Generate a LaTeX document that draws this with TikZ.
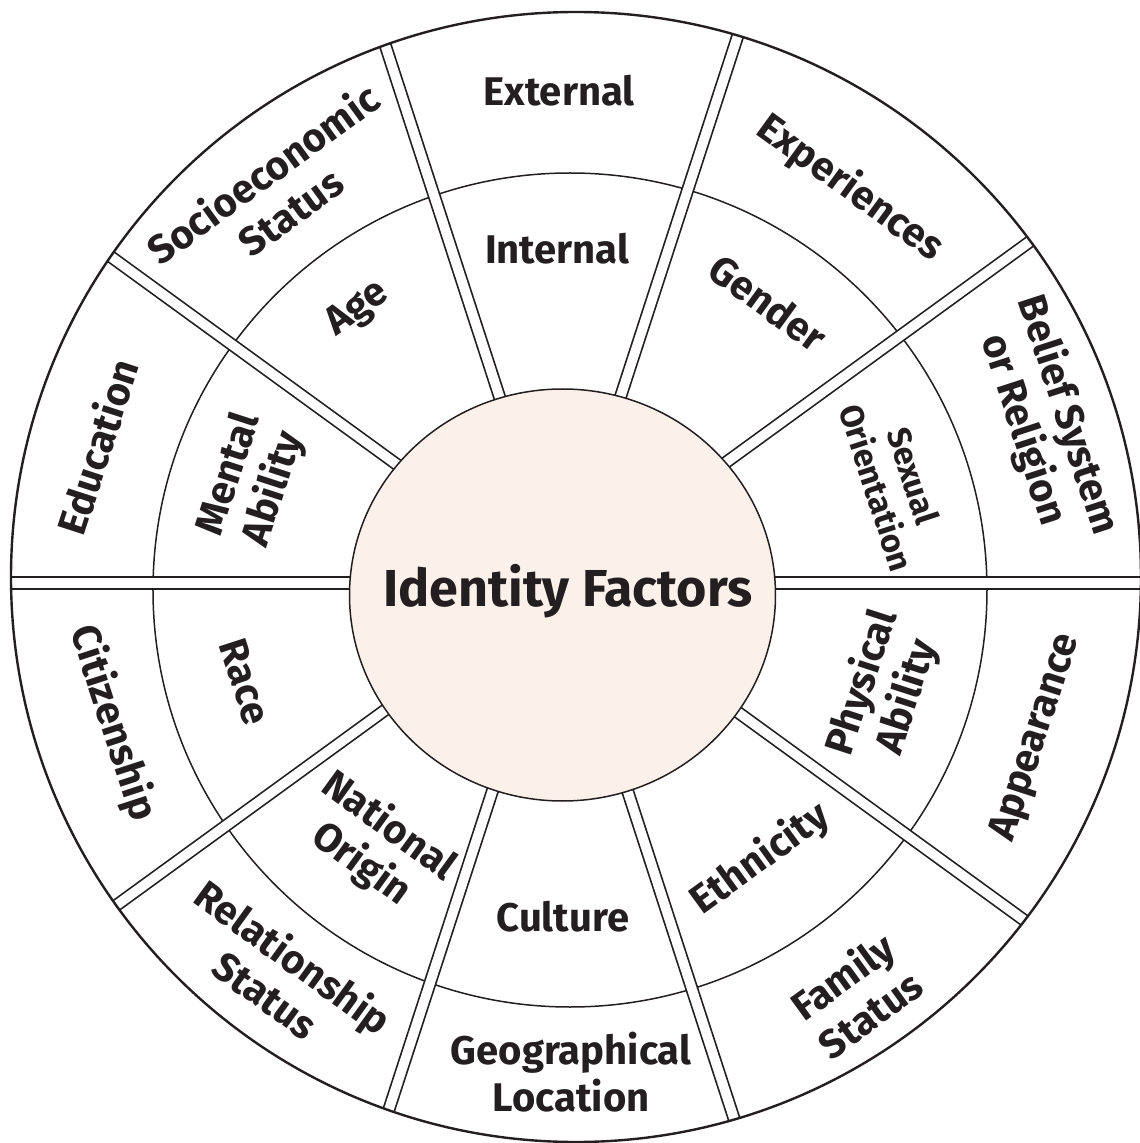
\documentclass[tikz,border=0pt]{standalone}
\usepackage{fontspec}
\setmainfont{Fira Sans}
\definecolor{inkLine}{HTML}{231F20}
\definecolor{hubFill}{HTML}{FCF0EA}

\begin{document}
\begin{tikzpicture}[
  x=1pt, y=1pt,
  rim/.style={draw=inkLine, line width=2.4pt},
  ring/.style={draw=inkLine, line width=1.5pt},
  spokeedge/.style={draw=inkLine, line width=13pt},
  spokegap/.style={draw=white, line width=9.6pt},
  hub/.style={fill=hubFill, draw=inkLine, line width=1.5pt},
  factor/.style={text=inkLine, align=center, inner sep=0pt},
  title/.style={font=\fontsize{52}{60}\selectfont\bfseries, text=inkLine, inner sep=0pt}
]
  %% --- geometria (unita': pt, origine nel punto d'incontro dei raggi) ---
  \def\rrim{565}     % raggio del bordo esterno
  \def\rring{417}    % raggio dell'anello intermedio
  \def\rhubx{213}    % semiassi del nucleo
  \def\rhuby{206}

  \useasboundingbox (-560,-560) rectangle (580,583);

  %% --- anello intermedio ---
  \draw[ring] (10,-7) circle[radius=\rring];

  %% --- raggi doppi, uno ogni 36 gradi, tagliati sul bordo ---
  \begin{scope}
    \clip (16,6) circle[radius=\rrim];
    \foreach \a in {0,36,...,324} {
      \draw[spokeedge] (0,0) -- (\a:620);
      \draw[spokegap]  (0,0) -- (\a:620);
    }
  \end{scope}

  %% --- nucleo e bordo ---
  \draw[hub] (2.5,-12) ellipse[x radius=\rhubx, y radius=\rhuby];
  \node[title] (core) at (8,-8) {Identity Factors};
  \draw[rim] (16,6) circle[radius=\rrim];

  %% --- etichette: settore, esterna (angolo/raggio/testo), interna, corpo ---
  %% la rotazione segue la tangente; nella meta' inferiore si gira di 180
  %% gradi cosi' il testo resta leggibile.
  \foreach \a/\ao/\ro/\txo/\ai/\ri/\txi/\fs [count=\i] in {
    18/18.3/511/{Belief System\\or Religion}/16.8/350/{Sexual\\Orientation}/33,
    54/53.7/490/{Experiences}/53.4/349/{Gender}/40,
    90/90.1/492/{External}/90.5/334/{Internal}/40,
    126/126/483/{Socioeconomic\\Status}/126.5/340/{Age}/40,
    162/163.6/483/{Education}/161.8/324/{Mental\\Ability}/40,
    198/197.4/469/{Citizenship}/197.4/330/{Race}/40,
    234/234.5/482/{Relationship\\Status}/234.8/321/{National\\Origin}/40,
    270/271.3/489/{Geographical\\Location}/270.5/334/{Culture}/40,
    306/305.7/507/{Family\\Status}/306/341/{Ethnicity}/40,
    342/342/501/{Appearance}/341.8/342/{Physical\\Ability}/40
  } {
    \pgfmathsetmacro{\rot}{\a<180 ? \a-90 : \a+90}
    \pgfmathsetmacro{\ls}{\fs*1.17}
    \node[factor, rotate=\rot, font=\fontsize{40}{47}\selectfont\bfseries]
      (ext-\i) at (\ao:\ro) {\txo};
    \node[factor, rotate=\rot, font=\fontsize{\fs}{\ls}\selectfont\bfseries]
      (int-\i) at (\ai:\ri) {\txi};
  }
\end{tikzpicture}
\end{document}
